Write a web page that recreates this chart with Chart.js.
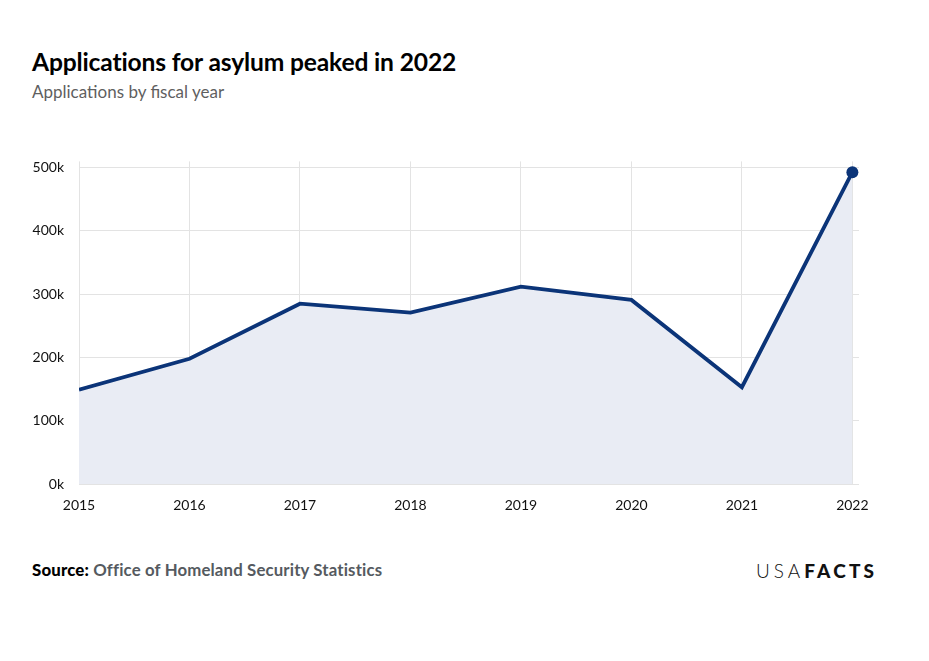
<!DOCTYPE html>
<html>
<head>
<meta charset="utf-8">
<script src="https://cdn.jsdelivr.net/npm/chart.js@4"></script>
<style>
  body { margin: 0; width: 929px; height: 661px; background: #fff; font-family: Lato, "Noto Sans", sans-serif; position: relative; overflow: hidden; }
  h1 { position: absolute; left: 32px; top: 47px; margin: 0; font-size: 24.6px; font-weight: 700; color: #000; letter-spacing: -0.15px; }
  .sub { position: absolute; left: 32px; top: 81px; font-size: 17px; color: #5f5f5f; }
  #wrap { position: absolute; left: 0; top: 138px; width: 929px; height: 392px; }
  .source { position: absolute; left: 32px; top: 559px; font-size: 16.8px; font-weight: 700; color: #555a60; letter-spacing: 0.15px; }
  .source b { color: #000; }
  .logo { position: absolute; left: 756px; top: 559px; font-size: 19px; color: #111; letter-spacing: 4px; font-weight: 300; }
  .logo span { font-weight: 900; letter-spacing: 3.2px; }
</style>
</head>
<body>
<h1>Applications for asylum peaked in 2022</h1>
<div class="sub">Applications by fiscal year</div>
<div id="wrap"><canvas id="myChart"></canvas></div>
<div class="source"><b>Source:</b> Office of Homeland Security Statistics</div>
<div class="logo">USA<span>FACTS</span></div>
<script>
const years = [2015, 2016, 2017, 2018, 2019, 2020, 2021, 2022];
const applications = [149000, 198000, 285000, 271000, 312000, 291000, 153000, 493000];
const yTicks = [0, 100000, 200000, 300000, 400000, 500000];

const ctx = document.getElementById('myChart');
const font = { family: 'Lato, "Noto Sans", sans-serif', size: 14 };

new Chart(ctx, {
  type: 'line',
  data: {
    datasets: [{
      data: years.map((y, i) => ({ x: y, y: applications[i] })),
      borderColor: '#0b3478',
      backgroundColor: '#e9ecf4',
      borderWidth: 3.8,
      fill: 'origin',
      tension: 0,
      pointRadius: years.map((y, i) => i === years.length - 1 ? 6 : 0),
      pointBackgroundColor: '#0b3478',
      pointBorderWidth: 0
    }]
  },
  options: {
    responsive: true,
    maintainAspectRatio: false,
    animation: false,
    layout: { padding: { top: 12, right: 70, left: 0, bottom: 0 } },
    plugins: { legend: { display: false }, tooltip: { enabled: false } },
    scales: {
      x: {
        type: 'linear',
        min: 2015,
        max: 2022.06,
        afterBuildTicks: s => { s.ticks = years.map(v => ({ value: v })); },
        afterFit: s => { s.height = 46; },
        grid: { color: '#e3e3e3', drawTicks: false },
        border: { display: false },
        ticks: { color: '#111', font: font, padding: 13, callback: v => String(v) }
      },
      y: {
        min: 0,
        max: 510000,
        afterBuildTicks: s => { s.ticks = yTicks.map(v => ({ value: v })); },
        afterFit: s => { s.width = 79; },
        grid: { color: '#e3e3e3', drawTicks: false },
        border: { display: false },
        ticks: { color: '#111', font: font, padding: 15, callback: v => (v / 1000) + 'k' }
      }
    }
  }
});
</script>
</body>
</html>
